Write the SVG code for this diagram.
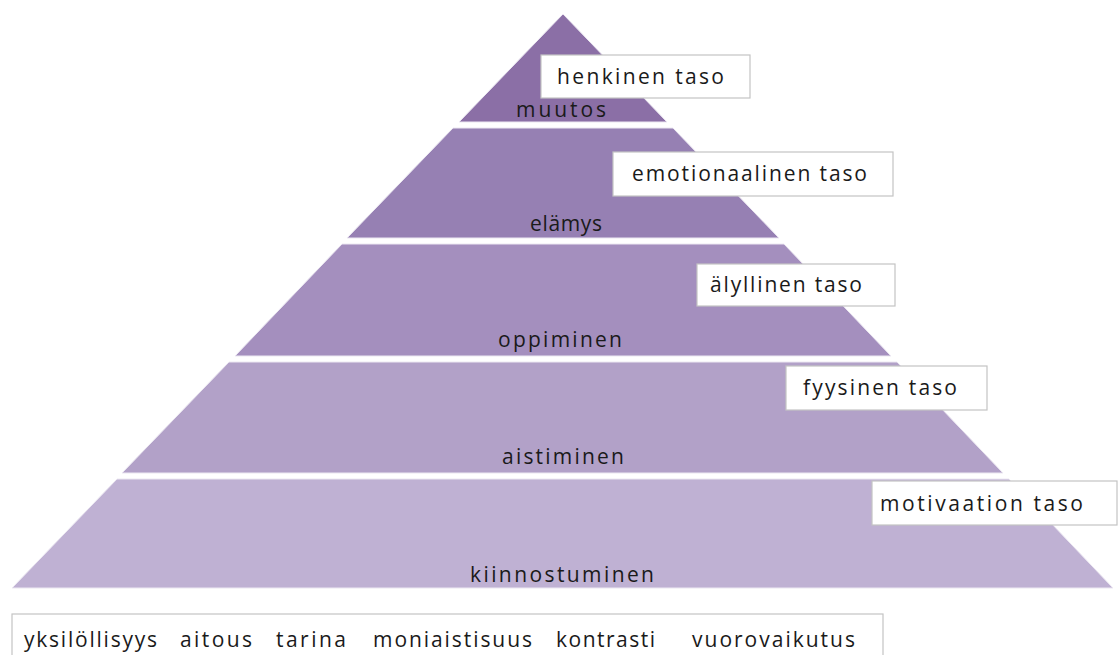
<svg xmlns="http://www.w3.org/2000/svg" width="1120" height="655" viewBox="0 0 1120 655">
<defs>
<style>
.lvl{stroke:#ece8f2;stroke-width:1}
.box{fill:#ffffff;stroke:#c4c4c4;stroke-width:1.2}
.t{font-family:"Open Sans","Liberation Sans",sans-serif;font-size:21px;fill:#1a1a1a}
.c{text-anchor:middle}
</style>
</defs>
<rect width="1120" height="655" fill="#ffffff"/>
<g id="level1">
<polygon class="lvl" points="563,14 459,122 667,122" fill="#8b6fa6"/>
<text class="t c" x="561" y="117" textLength="90" lengthAdjust="spacing">muutos</text>
</g>
<g id="level2">
<polygon class="lvl" points="453,128 673,128 779,238 347,238" fill="#9680b3"/>
<text class="t c" x="566" y="231" textLength="72" lengthAdjust="spacing">elämys</text>
</g>
<g id="level3">
<polygon class="lvl" points="342,244 784,244 891,356 235,356" fill="#a48fbe"/>
<text class="t c" x="560" y="347" textLength="124" lengthAdjust="spacing">oppiminen</text>
</g>
<g id="level4">
<polygon class="lvl" points="229,362 897,362 1003,473 122,473" fill="#b2a1c8"/>
<text class="t c" x="563" y="464" textLength="122" lengthAdjust="spacing">aistiminen</text>
</g>
<g id="level5">
<polygon class="lvl" points="117,479 1009,479 1113,588 12,588" fill="#bfb1d3"/>
<text class="t c" x="562" y="582" textLength="184" lengthAdjust="spacing">kiinnostuminen</text>
</g>
<g id="label-henkinen">
<rect class="box" x="541" y="55" width="209" height="43"/>
<text class="t" x="557" y="84" textLength="167" lengthAdjust="spacing">henkinen taso</text>
</g>
<g id="label-emotionaalinen">
<rect class="box" x="613" y="152" width="280" height="44"/>
<text class="t" x="632" y="181" textLength="235" lengthAdjust="spacing">emotionaalinen taso</text>
</g>
<g id="label-alyllinen">
<rect class="box" x="697" y="264" width="198" height="42"/>
<text class="t" x="710" y="292" textLength="152" lengthAdjust="spacing">älyllinen taso</text>
</g>
<g id="label-fyysinen">
<rect class="box" x="786" y="366" width="201" height="44"/>
<text class="t" x="803" y="395" textLength="154" lengthAdjust="spacing">fyysinen taso</text>
</g>
<g id="label-motivaation">
<rect class="box" x="872" y="481" width="245" height="44"/>
<text class="t" x="880" y="511" textLength="203" lengthAdjust="spacing">motivaation taso</text>
</g>
<g id="factors">
<rect class="box" x="12" y="614" width="871" height="50"/>
<text class="t" x="24" y="647" textLength="133" lengthAdjust="spacing">yksilöllisyys</text>
<text class="t" x="180" y="647" textLength="72" lengthAdjust="spacing">aitous</text>
<text class="t" x="276" y="647" textLength="70" lengthAdjust="spacing">tarina</text>
<text class="t" x="373" y="647" textLength="159" lengthAdjust="spacing">moniaistisuus</text>
<text class="t" x="556" y="647" textLength="99" lengthAdjust="spacing">kontrasti</text>
<text class="t" x="692" y="647" textLength="163" lengthAdjust="spacing">vuorovaikutus</text>
</g>
<g id="connectors"></g>
</svg>
